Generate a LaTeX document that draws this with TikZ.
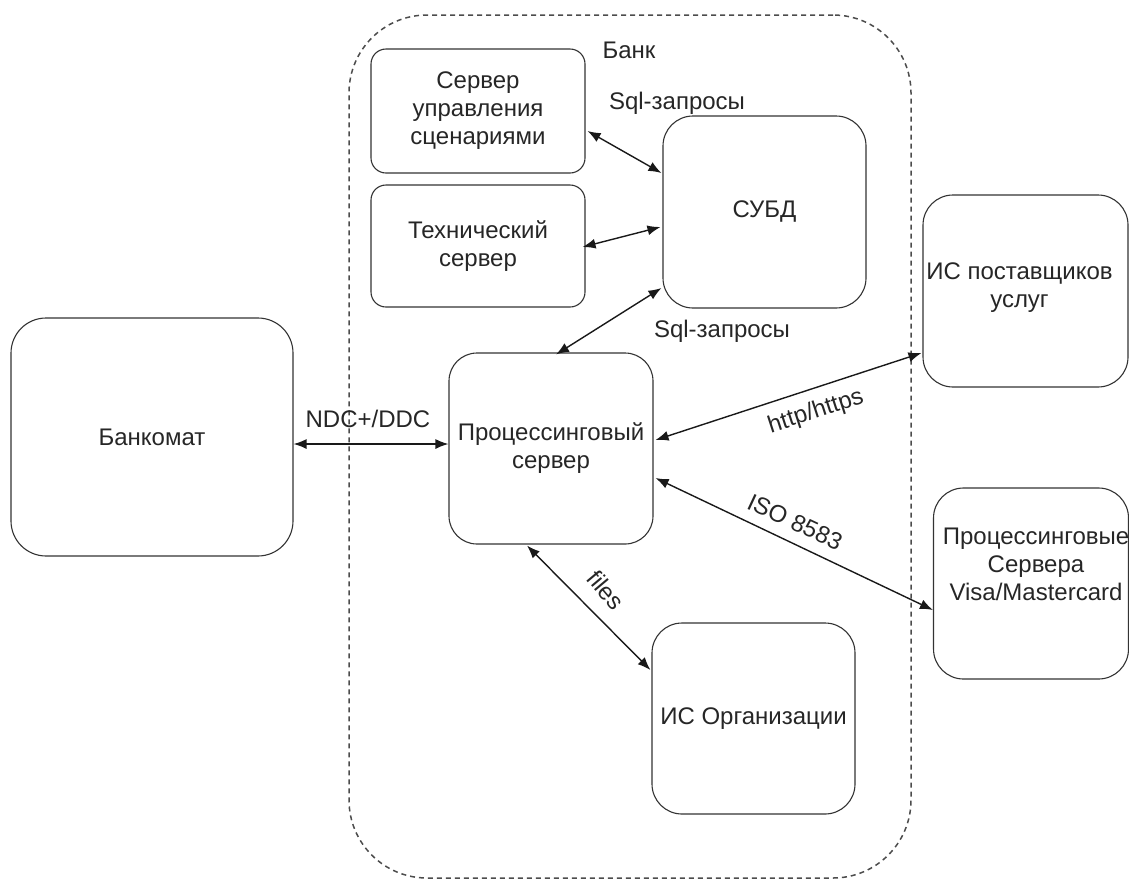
\documentclass[tikz,border=0pt]{standalone}
\usepackage{fontspec}
\setmainfont{Liberation Sans}
\usetikzlibrary{arrows.meta,calc}
\begin{document}
\begin{tikzpicture}[x=1pt,y=-1pt,
  font=\fontsize{24}{28}\selectfont,
  box/.style={draw=black!80, line width=1.1pt, rounded corners=#1, inner sep=0pt,
              align=center, text=black!85},
  box/.default=28pt,
  zone/.style={draw=black!70, line width=1.5pt, dash pattern=on 5pt off 4pt,
               rounded corners=78pt, inner sep=0pt},
  link/.style={{Latex[length=13pt,width=10pt]}-{Latex[length=13pt,width=10pt]},
               line width=1.4pt, draw=black!90},
  lbl/.style={inner sep=0pt, text=black!85}]

\useasboundingbox (0,0) rectangle (1129,879);

% bank perimeter
\node[zone, minimum width=562pt, minimum height=863pt] (bank) at (630,446.5) {};
\node[lbl] (banktitle) at (629,50) {Банк};

% systems inside the bank
\node[box=15pt, minimum width=214pt, minimum height=124pt] (scen) at (478,111)
  {Сервер\\управления\\сценариями};
\node[box=15pt, minimum width=214pt, minimum height=122pt] (tech) at (478,246)
  {Технический\\сервер};
\node[box=30pt, minimum width=203pt, minimum height=192pt] (dbms) at (764.5,212) {СУБД};
\node[box=28pt, minimum width=204pt, minimum height=191pt] (proc) at (551,448.5)
  {Процессинговый\\сервер};
\node[box=30pt, minimum width=203pt, minimum height=191pt] (org) at (753.5,718.5)
  {ИС Организации};

% outside systems
\node[box=35pt, minimum width=282pt, minimum height=238pt] (atm) at (152,437) {Банкомат};
\node[box=30pt, minimum width=205pt, minimum height=192pt] (prov) at (1025.5,291) {};
\node[lbl, align=center] (provtext) at ($(prov)+(-6,-3)$) {ИС поставщиков\\услуг};
\node[box=30pt, minimum width=195pt, minimum height=191pt] (visa) at (1031,583.5) {};
\node[lbl, align=center] (visatext) at ($(visa)+(5,-19)$)
  {Процессинговые\\Сервера\\Visa/Mastercard};

% connections
\draw[link] ($(scen.east)+(2,20)$) -- ($(dbms.west)+(-1,-39)$);
\draw[link] ($(tech.east)+(-3,1)$) -- ($(dbms.west)+(-2,15)$);
\draw[link] ($(proc.north)+(5,2)$) -- ($(dbms.west)+(-1,76)$);
\draw[link] ($(atm.east)+(0,7)$) -- ($(proc.west)+(0,-4.5)$);
\draw[link] ($(proc.east)+(2,-8.5)$) -- ($(prov.west)+(-1,62)$);
\draw[link] ($(proc.east)+(2,29.5)$) -- ($(visa.west)+(0,26.5)$);
\draw[link] ($(proc.south)+(-24,1)$) -- ($(org.west)+(-1,-48.5)$);

% protocol labels
\node[lbl] (sqltop) at (677,103) {Sql-запросы};
\node[lbl] (sqlbot) at (722,331) {Sql-запросы};
\node[lbl] (ndc) at (368,419) {NDC+/DDC};
\node[lbl, rotate=18] (http) at (816,412) {http/https};
\node[lbl, rotate=-25] (iso) at (795,522) {ISO 8583};
\node[lbl, rotate=-50] (files) at (606,590) {files};
\end{tikzpicture}
\end{document}
